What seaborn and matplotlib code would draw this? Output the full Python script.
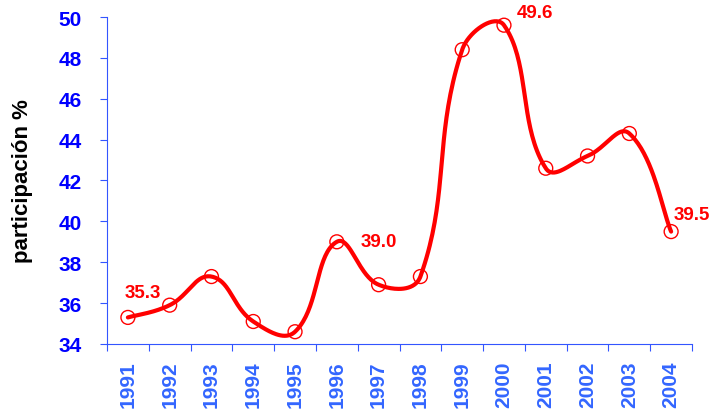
import numpy as np
import pandas as pd
import matplotlib
matplotlib.use("Agg")
import matplotlib.pyplot as plt
import seaborn as sns

years = ["1991", "1992", "1993", "1994", "1995", "1996", "1997",
         "1998", "1999", "2000", "2001", "2002", "2003", "2004"]
share = [35.3, 35.9, 37.3, 35.1, 34.6, 39.0, 36.9,
         37.3, 48.4, 49.6, 42.6, 43.2, 44.3, 39.5]
labelled = {"1991": (-2, 18), "1996": (17, 0), "2000": (9, 9), "2004": (2, 12)}
yticks = [34, 36, 38, 40, 42, 44, 46, 48, 50]

sns.set_theme(style="white")
plt.rcParams["font.family"] = ["Liberation Sans", "DejaVu Sans"]

RED = "#FF0000"
AXIS_BLUE = "#3355FF"
YTICK_BLUE = "#0000FF"
XTICK_BLUE = "#3366FF"


def smooth_display(pts, k=0.42, n=40):
    """Bezier smoothing in screen space; control arms scaled by chord lengths."""
    pts = np.asarray(pts, dtype=float)
    ext = np.vstack([pts[0], pts, pts[-1]])
    t = np.linspace(0, 1, n)[:, None]
    out = []
    for i in range(len(pts) - 1):
        a, p0, p3, b = ext[i], ext[i + 1], ext[i + 2], ext[i + 3]
        d_prev = np.hypot(*(p0 - a))
        d_seg = np.hypot(*(p3 - p0))
        d_next = np.hypot(*(b - p3))
        w0 = d_seg / (d_prev + d_seg) if d_prev + d_seg > 0 else 0.0
        w3 = d_seg / (d_seg + d_next) if d_seg + d_next > 0 else 0.0
        if i == 0:
            w0 = 0.5
        if i == len(pts) - 2:
            w3 = 0.5
        p1 = p0 + (p3 - a) * w0 * k
        p2 = p3 - (b - p0) * w3 * k
        seg = ((1 - t) ** 3) * p0 + 3 * ((1 - t) ** 2) * t * p1 \
            + 3 * (1 - t) * t ** 2 * p2 + t ** 3 * p3
        out.append(seg if i == 0 else seg[1:])
    return np.vstack(out)


pos = np.arange(len(years))
df = pd.DataFrame({"pos": pos, "year": years, "share": share})

fig = plt.figure(figsize=(7.11, 4.14), dpi=100)
ax = fig.add_axes([0.1505, 0.1667, 0.8228, 0.7898])
ax.set_xlim(-0.5, len(years) - 0.5)
ax.set_ylim(34, 50)

# smooth the series in screen space, then map back to data units
disp = ax.transData.transform(df[["pos", "share"]].to_numpy())
curve_xy = ax.transData.inverted().transform(smooth_display(disp))
curve = pd.DataFrame({"pos": curve_xy[:, 0], "share": curve_xy[:, 1]})

sns.lineplot(data=curve, x="pos", y="share", sort=False, estimator=None,
             color=RED, linewidth=3.0, ax=ax, zorder=2)
sns.scatterplot(data=df, x="pos", y="share", marker="o", s=100,
                facecolor="none", edgecolor=RED, linewidth=1.0, ax=ax, zorder=3)

for _, row in df.iterrows():
    if row["year"] in labelled:
        dx, dy = labelled[row["year"]]
        ax.annotate(f"{row['share']:.1f}", (row["pos"], row["share"]),
                    xytext=(dx, dy), textcoords="offset points",
                    ha="left", va="center", color=RED, fontsize=13.5,
                    fontweight="bold")

ax.set_xlim(-0.5, len(years) - 0.5)
ax.set_ylim(34, 50)
ax.set_yticks(yticks)
ax.set_yticklabels([str(v) for v in yticks])
ax.set_xticks(pos)
ax.set_xticklabels(years, rotation=90)
ax.set_xticks(np.arange(-0.5, len(years), 1.0), minor=True)

ax.tick_params(axis="y", which="major", direction="out", length=5, width=0.8,
               color=AXIS_BLUE, pad=13, labelsize=15, labelcolor=YTICK_BLUE,
               left=True)
ax.tick_params(axis="x", which="major", length=0, pad=12, labelsize=15,
               labelcolor=XTICK_BLUE)
ax.tick_params(axis="x", which="minor", direction="out", length=5, width=0.8,
               color=AXIS_BLUE, bottom=True)
for lab in ax.get_yticklabels() + ax.get_xticklabels():
    lab.set_fontweight("bold")

for side in ("top", "right"):
    ax.spines[side].set_visible(False)
for side in ("left", "bottom"):
    ax.spines[side].set_color(AXIS_BLUE)
    ax.spines[side].set_linewidth(0.8)

ax.set_xlabel("")
ax.set_ylabel("participación %", fontsize=16, fontweight="bold", color="black")
ax.yaxis.set_label_coords(-0.1265, 0.5)
ax.grid(False)

fig.savefig("out.png", dpi=100)
